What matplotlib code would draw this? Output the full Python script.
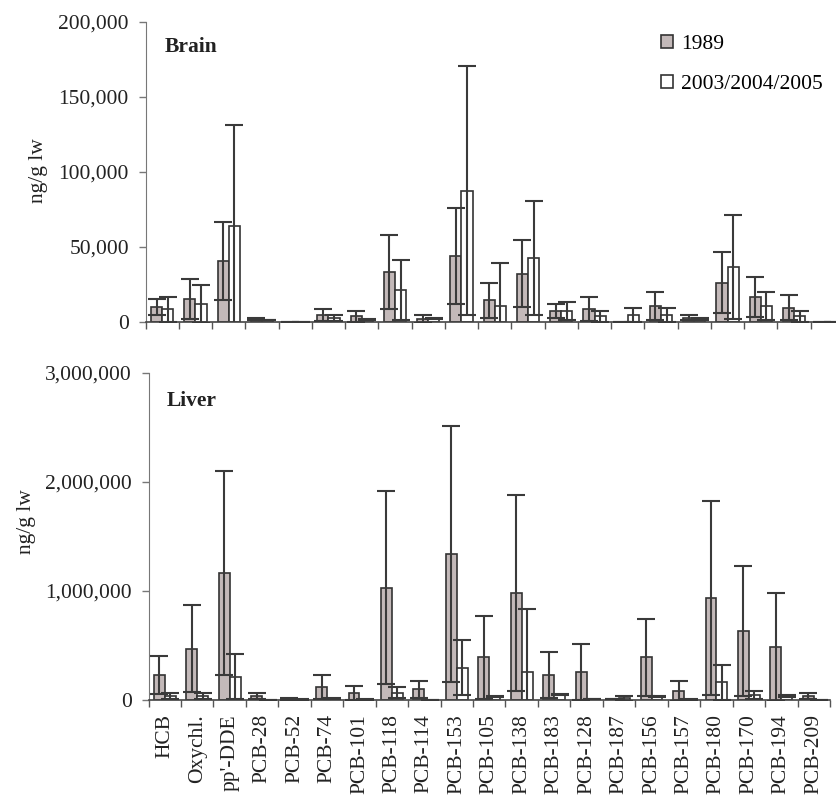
import matplotlib
matplotlib.use("Agg")
import matplotlib.pyplot as plt
from matplotlib.patches import Patch
from matplotlib.ticker import FuncFormatter, FixedLocator
import numpy as np

plt.rcParams['font.family'] = ['Liberation Serif', 'DejaVu Serif']

compounds = ["HCB", "Oxychl.", "pp'-DDE", "PCB-28", "PCB-52", "PCB-74", "PCB-101",
             "PCB-118", "PCB-114", "PCB-153", "PCB-105", "PCB-138", "PCB-183",
             "PCB-128", "PCB-187", "PCB-156", "PCB-157", "PCB-180", "PCB-170",
             "PCB-194", "PCB-209"]
series_labels = ["1989", "2003/2004/2005"]

# Brain, ng/g lw: mean and standard deviation
brain_1989 = [10000, 15500, 40400, 2200, 150, 4400, 3800, 33300, 2000, 44000, 14400,
              32200, 7300, 8700, 0, 10700, 2700, 26200, 16700, 9600, 200]
brain_1989_sd = [5500, 13200, 26000, 700, 50, 4000, 3500, 24900, 2900, 32000, 11800,
                 22500, 4700, 8000, 0, 9500, 1700, 20200, 13100, 8200, 50]
brain_recent = [8400, 12000, 64000, 1300, 100, 2700, 1500, 21600, 2200, 87600, 10700,
                42700, 7300, 3800, 4900, 4900, 2000, 36700, 10700, 3800, 100]
brain_recent_sd = [8300, 12900, 67300, 300, 50, 2200, 400, 20000, 500, 83100, 28600,
                   38000, 5800, 3500, 4700, 4700, 700, 34600, 9500, 3500, 50]

# Liver, ng/g lw: mean and standard deviation
liver_1989 = [227000, 472000, 1165000, 36000, 8000, 118000, 67000, 1032000, 100000,
              1340000, 390000, 986000, 230000, 260000, 10000, 390000, 85000, 935000,
              632000, 487000, 36000]
liver_1989_sd = [175000, 403000, 932000, 31000, 7000, 109000, 66000, 886000, 78000,
                 1175000, 385000, 899000, 209000, 257000, 2000, 351000, 93000, 890000,
                 597000, 499000, 31000]
liver_recent = [36000, 36000, 215000, 3000, 5000, 10000, 5000, 67000, 3000, 297000,
                30000, 260000, 48000, 10000, 15000, 30000, 5000, 163000, 48000, 40000, 0]
liver_recent_sd = [31000, 31000, 206000, 1000, 1000, 5000, 1000, 48000, 1000, 254000,
                   6000, 578000, 6000, 2000, 21000, 6000, 1000, 161000, 37000, 10000, 0]

GREY = "#c3b9b9"
EDGE = "#333333"
FS = 15.5

fig = plt.figure(figsize=(8.36, 7.96), dpi=100)
ax_b = fig.add_axes([145.5 / 836, 1 - 322 / 796, 698.5 / 836, 300 / 796])
ax_l = fig.add_axes([148.5 / 836, 1 - 700 / 796, 681.5 / 836, 327 / 796])

x = np.arange(len(compounds))
w = 0.335


def draw(ax, m1, s1, m2, s2, ymax, step, title):
    ax.bar(x - w / 2, m1, w, color=GREY, edgecolor=EDGE, linewidth=1.2, zorder=2)
    ax.bar(x + w / 2, m2, w, color="white", edgecolor=EDGE, linewidth=1.2, zorder=2)
    for off, m, s in ((-w / 2, m1, s1), (w / 2, m2, s2)):
        ax.errorbar(x + off, m, yerr=s, fmt="none", ecolor="#3a3a3a",
                    elinewidth=1.5, capsize=6.5, capthick=1.5, zorder=3)
    ax.set_xlim(-0.5, len(compounds) - 0.5)
    ax.set_ylim(0, ymax)
    ax.set_yticks(np.arange(0, ymax + 1, step))
    ax.yaxis.set_major_formatter(FuncFormatter(lambda v, p: f"{int(v):,}"))
    ax.tick_params(axis="y", labelsize=FS, length=5, width=1, color="#777777",
                   pad=7, labelcolor="#222222")
    ax.set_xticks(x)
    ax.xaxis.set_minor_locator(FixedLocator(np.arange(-0.5, len(compounds), 1.0)))
    ax.tick_params(axis="x", which="major", length=0)
    ax.tick_params(axis="x", which="minor", length=5, width=1, color="#555555")
    for side in ("top", "right"):
        ax.spines[side].set_visible(False)
    ax.spines["left"].set_color("#777777")
    ax.spines["bottom"].set_color("#444444")
    ax.spines["bottom"].set_linewidth(1.2)
    ax.text(0.027, 0.915, title, transform=ax.transAxes, fontsize=FS,
            fontweight="bold", color="#222222", va="center")


draw(ax_b, brain_1989, brain_1989_sd, brain_recent, brain_recent_sd, 200000, 50000, "Brain")
draw(ax_l, liver_1989, liver_1989_sd, liver_recent, liver_recent_sd, 3000000, 1000000, "Liver")

ax_b.set_xticklabels([])
ax_l.set_xticklabels(compounds, rotation=90, fontsize=FS, color="#222222")
ax_l.tick_params(axis="x", which="major", pad=10)

fig.text(38 / 836, 1 - 171 / 796, "ng/g lw", rotation=90, ha="center", va="center",
         fontsize=FS, color="#222222")
fig.text(26 / 836, 1 - 522 / 796, "ng/g lw", rotation=90, ha="center", va="center",
         fontsize=FS, color="#222222")

handles = [Patch(facecolor=GREY, edgecolor=EDGE, linewidth=1.2),
           Patch(facecolor="white", edgecolor=EDGE, linewidth=1.2)]
fig.legend(handles, series_labels, loc="upper left",
           bbox_to_anchor=(661 / 836, 1 - 35 / 796), frameon=False, fontsize=FS,
           handlelength=0.55, handleheight=0.55, handletextpad=0.4,
           labelspacing=0.95, borderaxespad=0, borderpad=0)

fig.savefig("out.png", dpi=100)
